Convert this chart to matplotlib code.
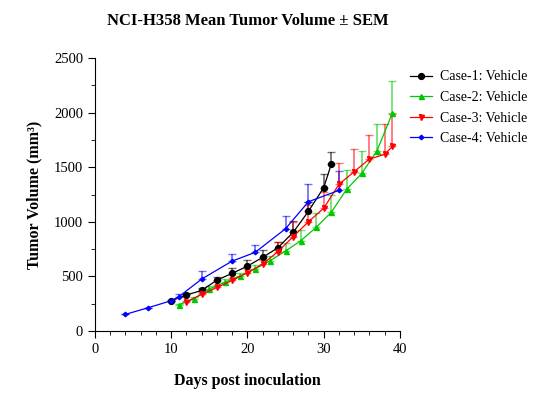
import matplotlib.pyplot as plt
from matplotlib.ticker import MultipleLocator

plt.rcParams["font.family"] = ["Liberation Serif", "DejaVu Serif"]

# Case-1: Vehicle
days1 = [10, 12, 14, 16, 18, 20, 22, 24, 26, 28, 30, 31]
vol1 = [278, 330, 372, 467, 528, 595, 675, 763, 904, 1096, 1313, 1527]
sem1 = [10, 21, 25, 31, 46, 55, 67, 55, 103, 84, 122, 116]

# Case-2: Vehicle
days2 = [11, 13, 15, 17, 19, 21, 23, 25, 27, 29, 31, 33, 35, 37, 39]
vol2 = [241, 295, 385, 446, 504, 568, 645, 733, 827, 949, 1087, 1297, 1444, 1652, 1994]
sem2 = [10, 15, 25, 30, 30, 35, 40, 76, 98, 128, 155, 177, 207, 244, 296]

# Case-3: Vehicle
days3 = [12, 14, 16, 18, 20, 22, 24, 26, 28, 30, 32, 34, 36, 38, 39]
vol3 = [268, 336, 400, 464, 534, 614, 727, 864, 1001, 1124, 1343, 1459, 1575, 1618, 1690]
sem3 = [12, 15, 20, 25, 30, 40, 91, 137, 153, 152, 193, 208, 220, 278, 300]

# Case-4: Vehicle
days4 = [4, 7, 10, 11, 14, 18, 21, 25, 28, 32]
vol4 = [153, 214, 278, 314, 476, 641, 720, 937, 1184, 1288]
sem4 = [0, 0, 0, 30, 73, 61, 68, 119, 159, 174]

series = [
    ("Case-1: Vehicle", days1, vol1, sem1, "black", "o", 4.2),
    ("Case-2: Vehicle", days2, vol2, sem2, "#00c800", "^", 3.6),
    ("Case-3: Vehicle", days3, vol3, sem3, "red", "v", 3.6),
    ("Case-4: Vehicle", days4, vol4, sem4, "blue", "D", 2.3),
]

fig = plt.figure(figsize=(5.39, 4.17), dpi=100)
ax = fig.add_axes([0.176, 0.206, 0.566, 0.655])

for label, x, y, err, color, marker, ms in series:
    ax.errorbar(x, y, yerr=[[0] * len(err), err], color=color, ecolor=color,
                elinewidth=1.3, capsize=3, capthick=1, alpha=0.55,
                fmt="none", zorder=2)
    ax.plot(x, y, color=color, marker=marker, markersize=ms, linewidth=0.9,
            label=label, zorder=3)

ax.set_xlim(0, 40)
ax.set_ylim(0, 2500)
ax.xaxis.set_major_locator(MultipleLocator(10))
ax.xaxis.set_minor_locator(MultipleLocator(2))
ax.yaxis.set_major_locator(MultipleLocator(500))
ax.yaxis.set_minor_locator(MultipleLocator(250))
ax.tick_params(which="major", length=5, labelsize=10.5)
ax.tick_params(which="minor", length=3)
ax.spines["top"].set_visible(False)
ax.spines["right"].set_visible(False)

ax.set_title("NCI-H358 Mean Tumor Volume ± SEM", fontsize=12,
             fontweight="bold", pad=24)
ax.set_xlabel("Days post inoculation", fontsize=11.5, fontweight="bold",
              labelpad=12)
ax.set_ylabel("Tumor Volume (mm³)", fontsize=11.5, fontweight="bold",
              labelpad=8)

ax.legend(loc="upper left", bbox_to_anchor=(1.0, 0.99), frameon=False,
          fontsize=10, handlelength=1.6, handletextpad=0.6,
          labelspacing=0.55, borderaxespad=0.3)

fig.savefig("out.png", dpi=100)
